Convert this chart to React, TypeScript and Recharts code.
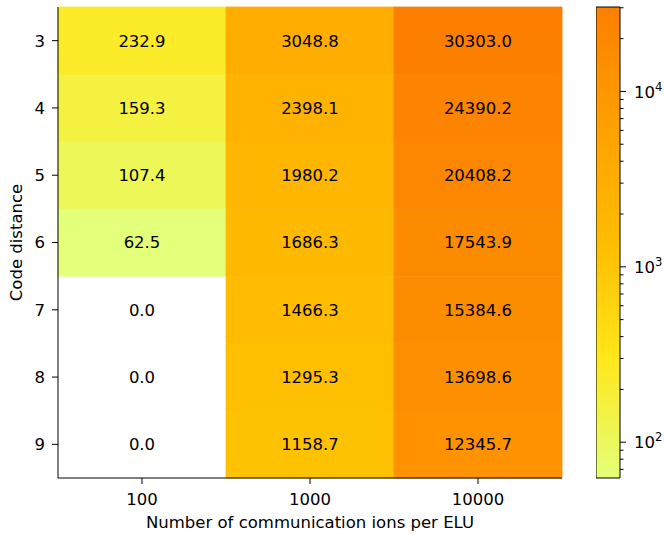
import React from "react";
import {
  BarChart,
  Bar,
  XAxis,
  YAxis,
  Cell,
  ComposedChart,
  ReferenceArea,
  Label,
} from "recharts";

// columns of the heatmap (x) and rows (y)
const IONS = ["100", "1000", "10000"];
const DISTANCES = [3, 4, 5, 6, 7, 8, 9];

// values per column, top row (d=3) first
const VALUES_100 = [232.9, 159.3, 107.4, 62.5, 0.0, 0.0, 0.0];
const VALUES_1000 = [3048.8, 2398.1, 1980.2, 1686.3, 1466.3, 1295.3, 1158.7];
const VALUES_10000 = [30303.0, 24390.2, 20408.2, 17543.9, 15384.6, 13698.6, 12345.7];

const COLUMNS = [VALUES_100, VALUES_1000, VALUES_10000];

const CB_MAJOR = [100, 1000, 10000];
const CB_MINOR = [70, 80, 90, 200, 300, 400, 500, 600, 700, 800, 900, 2000, 3000, 4000, 5000, 6000, 7000, 8000, 9000, 20000, 30000];

const FONT = "DejaVu Sans, sans-serif";
const FS = 16.5;

const allPositive = COLUMNS.flat().filter((v) => v > 0);
const VMIN = Math.min(...allPositive);
const VMAX = Math.max(...allPositive);

// matplotlib "Wistia"
const WISTIA: [number, number, number, number][] = [
  [0.0, 228, 255, 122],
  [0.25, 255, 232, 26],
  [0.5, 255, 189, 0],
  [0.75, 255, 160, 0],
  [1.0, 252, 127, 0],
];

function wistia(t: number) {
  t = Math.max(0, Math.min(1, t));
  for (let i = 1; i < WISTIA.length; i++) {
    const a = WISTIA[i - 1];
    const b = WISTIA[i];
    if (t <= b[0]) {
      const f = (t - a[0]) / (b[0] - a[0]);
      const c = [1, 2, 3].map((k) => Math.round(a[k] + (b[k] - a[k]) * f));
      return `rgb(${c[0]},${c[1]},${c[2]})`;
    }
  }
  return "rgb(252,127,0)";
}

function colorFor(v: number) {
  if (v <= 0) return "#ffffff";
  const t = (Math.log10(v) - Math.log10(VMIN)) / (Math.log10(VMAX) - Math.log10(VMIN));
  return wistia(t);
}

// one entry per column; rows drawn as stacked unit segments, bottom row first
const rowsBottomUp = [...DISTANCES].reverse();
const data = IONS.map((ions, ci) => {
  const row: Record<string, any> = { ions };
  DISTANCES.forEach((d, ri) => {
    row[`d${d}`] = COLUMNS[ci][ri];
  });
  return row;
});

function ColorbarTick(props: any) {
  const { x, y, payload } = props;
  const v = payload.value as number;
  const axisX = x - 8;
  const major = CB_MAJOR.includes(v);
  const len = major ? 6 : 3.5;
  return (
    <g>
      <line x1={axisX} x2={axisX + len} y1={y} y2={y} stroke="#000" strokeWidth={1} />
      {major && (
        <text x={axisX + 14} y={y} dy="0.38em" fontFamily={FONT} fontSize={FS} fill="#000">
          10
          <tspan dy="-0.62em" fontSize={FS * 0.7}>
            {String(Math.round(Math.log10(v)))}
          </tspan>
        </text>
      )}
    </g>
  );
}

export default function App() {
  const stops = [...WISTIA].reverse();
  return (
    <div style={{ position: "absolute", left: 0, top: 0, width: 664, height: 534, background: "#fff" }}>
      <div style={{ position: "absolute", left: 0, top: 0 }}>
        <BarChart
          width={563}
          height={534}
          data={data}
          barCategoryGap={0}
          margin={{ top: 7, right: 1, bottom: 0, left: 0 }}
        >
          <XAxis
            dataKey="ions"
            type="category"
            height={56}
            tickSize={6}
            tickMargin={9}
            tick={{ fontFamily: FONT, fontSize: FS, fill: "#000" }}
            tickLine={{ stroke: "#000" }}
            axisLine={{ stroke: "#000" }}
          >
            <Label
              value="Number of communication ions per ELU"
              position="insideBottom"
              offset={6}
              style={{ fontFamily: FONT, fontSize: FS, fill: "#000" }}
            />
          </XAxis>
          <XAxis xAxisId="top" orientation="top" dataKey="ions" height={0} tick={false} tickLine={false} axisLine={{ stroke: "#000" }} />
          <YAxis
            type="number"
            domain={[0, DISTANCES.length]}
            ticks={rowsBottomUp.map((_, i) => i + 0.5)}
            tickFormatter={(t: number) => String(rowsBottomUp[Math.floor(t)])}
            width={58}
            tickSize={6}
            tickMargin={7}
            tick={{ fontFamily: FONT, fontSize: FS, fill: "#000" }}
            tickLine={{ stroke: "#000" }}
            axisLine={{ stroke: "#000" }}
          >
            <Label
              value="Code distance"
              angle={-90}
              position="insideLeft"
              offset={16}
              style={{ textAnchor: "middle", fontFamily: FONT, fontSize: FS, fill: "#000" }}
            />
          </YAxis>
          <YAxis yAxisId="right" orientation="right" width={0} tick={false} tickLine={false} axisLine={{ stroke: "#000" }} />
          {rowsBottomUp.map((d) => (
            <Bar
              key={d}
              dataKey={() => 1}
              stackId="cells"
              isAnimationActive={false}
              label={(p: any) => (
                <text
                  x={p.x + p.width / 2}
                  y={p.y + p.height / 2}
                  dy="0.36em"
                  textAnchor="middle"
                  fontFamily={FONT}
                  fontSize={FS}
                  fill="#000"
                >
                  {Number(data[p.index][`d${d}`]).toFixed(1)}
                </text>
              )}
            >
              {data.map((row, i) => (
                <Cell key={i} fill={colorFor(row[`d${d}`])} stroke={colorFor(row[`d${d}`])} strokeWidth={0.8} />
              ))}
            </Bar>
          ))}
        </BarChart>
      </div>
      <div style={{ position: "absolute", left: 596, top: 0 }}>
        <ComposedChart width={68} height={534} data={[{ x: 0 }, { x: 1 }]} margin={{ top: 7, right: 0, bottom: 56, left: 0 }}>
          <defs>
            <linearGradient id="wistiaGrad" x1="0" y1="0" x2="0" y2="1">
              {stops.map((s, i) => (
                <stop key={i} offset={`${(1 - s[0]) * 100}%`} stopColor={`rgb(${s[1]},${s[2]},${s[3]})`} />
              ))}
            </linearGradient>
          </defs>
          <XAxis dataKey="x" type="number" domain={[0, 1]} hide />
          <YAxis
            orientation="right"
            scale="log"
            type="number"
            domain={[VMIN, VMAX]}
            allowDataOverflow
            ticks={[...CB_MINOR, ...CB_MAJOR].sort((a, b) => a - b)}
            interval={0}
            width={44}
            tickSize={6}
            tickMargin={2}
            tickLine={false}
            axisLine={false}
            tick={<ColorbarTick />}
          />
          <ReferenceArea x1={0} x2={1} y1={VMIN} y2={VMAX} fill="url(#wistiaGrad)" fillOpacity={1} stroke="#000" strokeWidth={1} ifOverflow="visible" />
        </ComposedChart>
      </div>
    </div>
  );
}
